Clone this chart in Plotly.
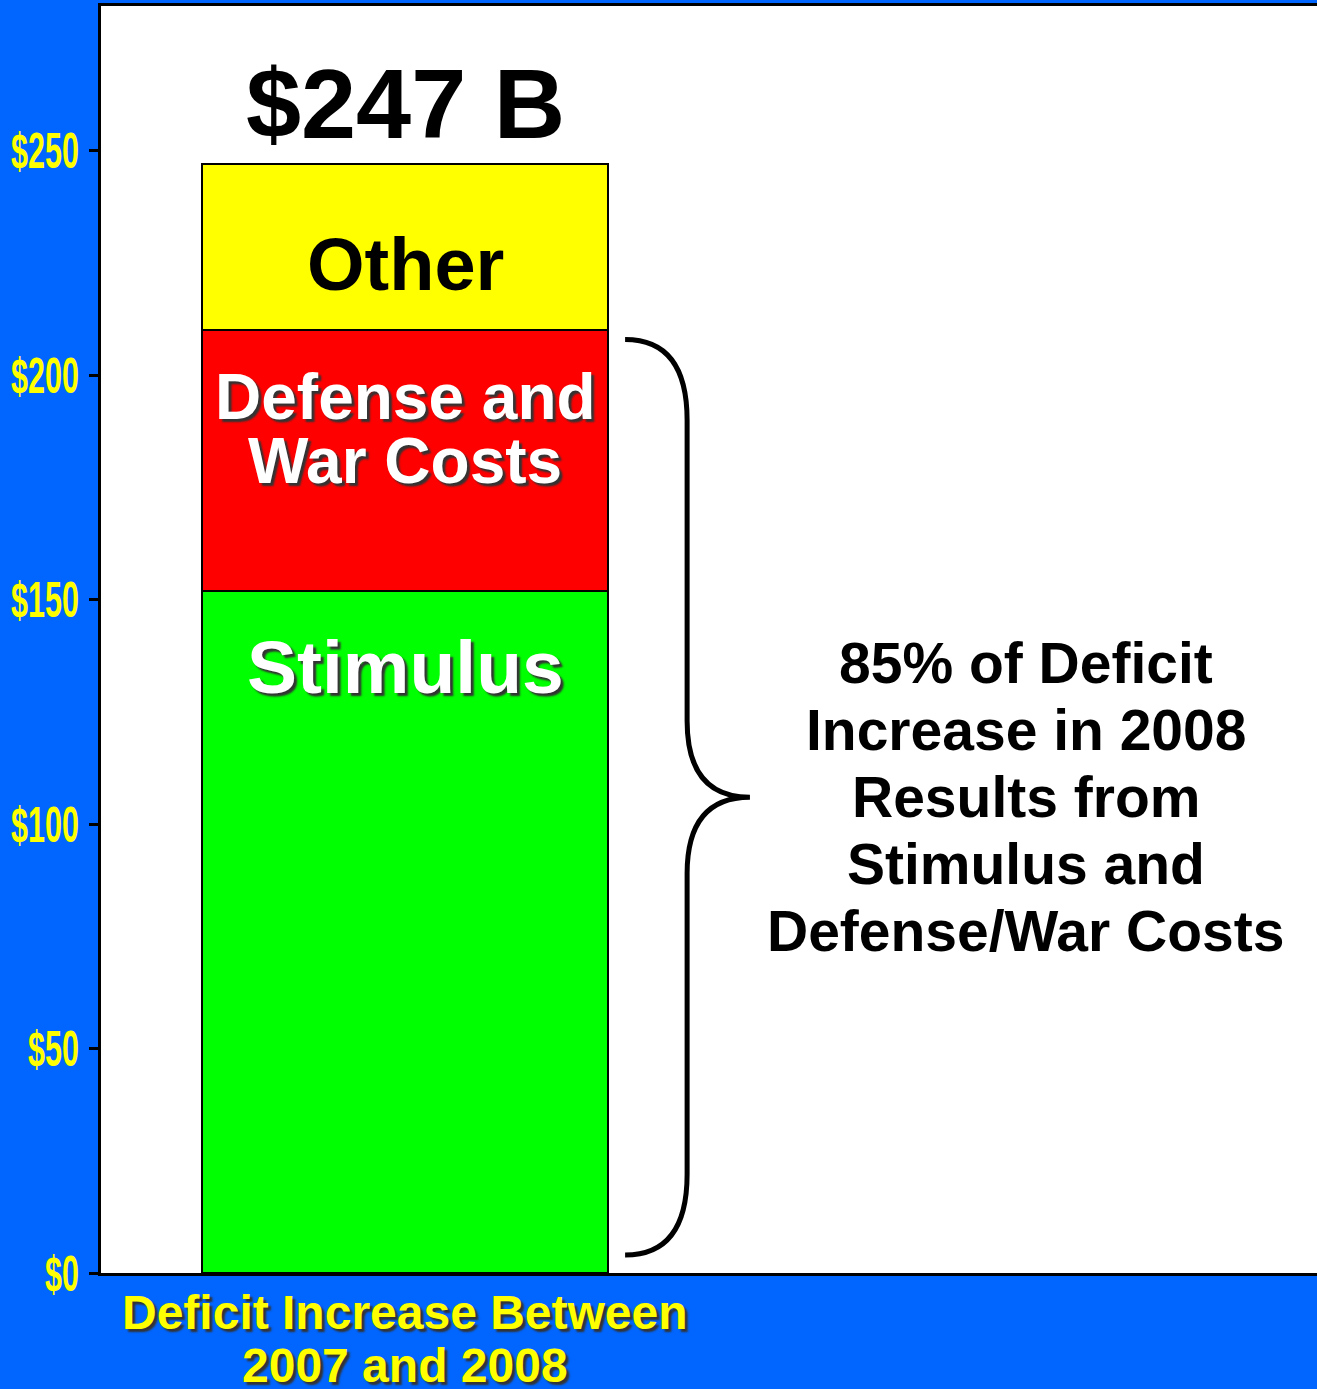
import plotly.graph_objects as go

categories = ["Deficit Increase Between", "2007 and 2008"]
segments = ["Stimulus", "Defense and War Costs", "Other"]
segment_lines = [["Stimulus"], ["Defense and", "War Costs"], ["Other"]]
values = [152, 58, 37]
colors = ["#00FF00", "#FF0000", "#FFFF00"]
y_ticks = [0, 50, 100, 150, 200, 250]
y_ticktext = ["$0", "$50", "$100", "$150", "$200", "$250"]
total_label = "$247 B"
brace_lines = ["85% of Deficit", "Increase in 2008", "Results from", "Stimulus and", "Defense/War Costs"]

BLUE = "#0066FF"
FONT = "Liberation Sans, Arial"
fig = go.Figure()
for name, v, c in zip(segments, values, colors):
    fig.add_trace(go.Bar(x=[0], y=[v], name=name, marker=dict(color=c, line=dict(color="black", width=2)),
                         width=1.0, showlegend=False, hoverinfo="skip"))

cum = [sum(values[:i + 1]) for i in range(len(values))]
total = cum[-1]
shadow = "3px 3px 2px #333333"

# segment labels
fig.add_annotation(x=0, y=cum[0] - 17, text=segment_lines[0][0], showarrow=False,
                   font=dict(family=FONT, size=75, color="white", weight="bold", shadow=shadow))
for i, ln in enumerate(segment_lines[1]):
    fig.add_annotation(x=0, y=cum[1] - 22, yshift=32 - 64 * i, text=ln, showarrow=False,
                       font=dict(family=FONT, size=64, color="white", weight="bold", shadow=shadow))
fig.add_annotation(x=0, y=cum[1] + values[2] * 0.4, text=segment_lines[2][0], showarrow=False,
                   font=dict(family=FONT, size=74, color="black", weight="bold"))
fig.add_annotation(x=0, y=total + 13.5, text=total_label, showarrow=False,
                   font=dict(family=FONT, size=99, color="black", weight="bold"))

# brace
top = cum[1]
x0, xv, xt = 0.543, 0.696, 0.851
yt, yb = top - 2, 4
ym = (yt + yb) / 2
r = 18
path = (f"M {x0},{yt} Q {xv},{yt} {xv},{yt - r} L {xv},{ym + 17} Q {xv},{ym} {xt},{ym} "
        f"Q {xv},{ym} {xv},{ym - 17} L {xv},{yb + r} Q {xv},{yb} {x0},{yb}")
fig.add_shape(type="path", path=path, xref="x", yref="y", line=dict(color="black", width=5))
n = len(brace_lines)
for i, ln in enumerate(brace_lines):
    fig.add_annotation(x=1.532, y=ym, yshift=((n - 1) / 2 - i) * 67, text=ln, showarrow=False,
                       font=dict(family=FONT, size=57, color="black", weight="bold"))

# category label
for i, ln in enumerate(categories):
    fig.add_annotation(x=0, y=0, yref="paper", yanchor="middle", yshift=-39 - 53 * i, text=ln, showarrow=False,
                       font=dict(family=FONT, size=48, color="#FFFF00", weight="bold", shadow=shadow))

fig.update_layout(
    width=1317, height=1389,
    margin=dict(l=101, r=0, t=6, b=116),
    paper_bgcolor=BLUE, plot_bgcolor="white",
    barmode="stack", bargap=0,
    xaxis=dict(range=[-0.75, 2.25], showticklabels=False, showgrid=False, zeroline=False,
               showline=True, linecolor="black", linewidth=3, mirror=True, ticks="", automargin=False),
    yaxis=dict(range=[0, 282.3], tickvals=y_ticks, ticktext=y_ticktext, showgrid=False, zeroline=False,
               showline=True, linecolor="black", linewidth=3, ticks="outside", ticklen=9,
               tickwidth=3, tickcolor="black", ticklabelstandoff=0, automargin=False,
               tickfont=dict(family="Liberation Sans Narrow, Liberation Sans", size=50, color="#FFFF00",
                             weight="bold")),
)

# condense the y tick labels horizontally (narrow bold look of the reference)
post = """
document.body.style.margin='0';
document.querySelectorAll('.ytick text').forEach(function(el){
  var w = el.getComputedTextLength();
  el.setAttribute('textLength', (w*0.61).toFixed(1));
  el.setAttribute('lengthAdjust', 'spacingAndGlyphs');
});
"""
fig.write_html("out.html", post_script=post, config={"displayModeBar": False})
